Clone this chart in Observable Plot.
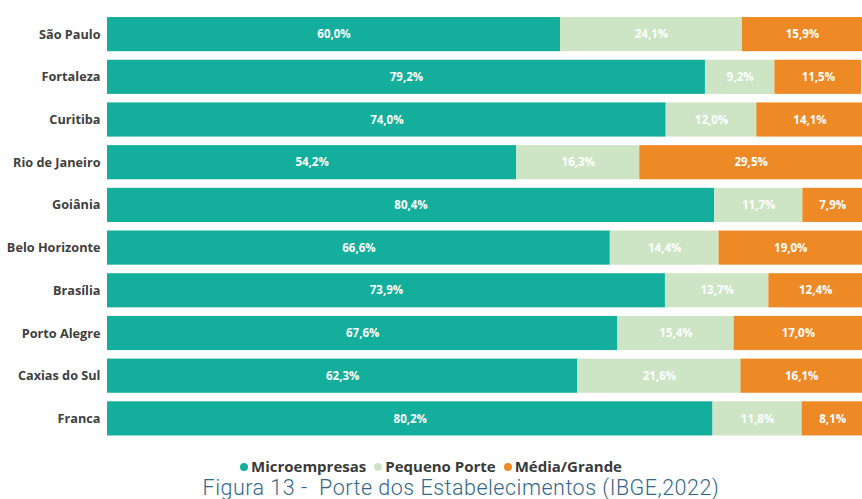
<!DOCTYPE html>
<html><head><meta charset="utf-8">
<script src="https://cdn.jsdelivr.net/npm/d3@7"></script>
<script src="https://cdn.jsdelivr.net/npm/@observablehq/plot@0.6"></script>
<style>
body{margin:0;background:#fff;font-family:"Open Sans",sans-serif;}
#wrap{width:862px;}
.legend{display:flex;justify-content:center;align-items:center;gap:8px;font-weight:700;font-size:15px;color:#3a3a3a;margin-top:13px;height:18px;line-height:18px;}
.legend span.dot{display:inline-block;width:8px;height:8px;border-radius:50%;margin-right:3px;vertical-align:middle;position:relative;top:-1px;}
.caption{text-align:center;font-family:"Roboto",sans-serif;font-weight:300;font-size:21.5px;letter-spacing:0.5px;color:#33678b;line-height:22px;margin-top:2px;white-space:pre;padding-left:60px;}
</style></head>
<body><div id="wrap"></div>
<script>
const cities = ["São Paulo","Fortaleza","Curitiba","Rio de Janeiro","Goiânia","Belo Horizonte","Brasília","Porto Alegre","Caxias do Sul","Franca"];
const seriesNames = ["Microempresas","Pequeno Porte","Média/Grande"];
const micro = [60.0,79.2,74.0,54.2,80.4,66.6,73.9,67.6,62.3,80.2];
const pequeno = [24.1,9.2,12.0,16.3,11.7,14.4,13.7,15.4,21.6,11.8];
const media = [15.9,11.5,14.1,29.5,7.9,19.0,12.4,17.0,16.1,8.1];
const colors = ["#13ae9c","#cde5c4","#ee8a26"];

const values = [micro, pequeno, media];
const data = [];
cities.forEach((c,i)=>seriesNames.forEach((s,j)=>data.push({city:c, series:s, value:values[j][i]})));
const fmt = v => v.toFixed(1).replace(".", ",") + "%";

const chart = Plot.plot({
  width: 862, height: 444,
  marginLeft: 107, marginRight: 0, marginTop: 8.5, marginBottom: 0,
  style: {fontFamily: "Open Sans, sans-serif", background: "#fff"},
  x: {domain: [0, 100], axis: null},
  y: {domain: cities, padding: 0.2, round: false, label: null, tickSize: 0, tickPadding: 7},
  color: {domain: seriesNames, range: colors},
  marks: [
    Plot.barX(data, Plot.stackX({x: "value", y: "city", fill: "series", order: seriesNames})),
    Plot.textX(data, Plot.stackX({x: "value", y: "city", z: "series", order: seriesNames, text: d => fmt(d.value), fill: "white", fontWeight: 700, fontSize: 11.5})),
    Plot.axisY({tickSize: 0, tickPadding: 7, fontWeight: 700, fontSize: 12.7, color: "#404040", label: null})
  ]
});
const wrap = document.getElementById("wrap");
wrap.appendChild(chart);
const leg = document.createElement("div");
leg.className = "legend";
seriesNames.forEach((s,i)=>{
  const it = document.createElement("span");
  it.innerHTML = `<span class="dot" style="background:${colors[i]}"></span>${s}`;
  leg.appendChild(it);
});
wrap.appendChild(leg);
const cap = document.createElement("div");
cap.className = "caption";
cap.textContent = "Figura 13 -  Porte dos Estabelecimentos (IBGE,2022)";
wrap.appendChild(cap);
</script></body></html>
